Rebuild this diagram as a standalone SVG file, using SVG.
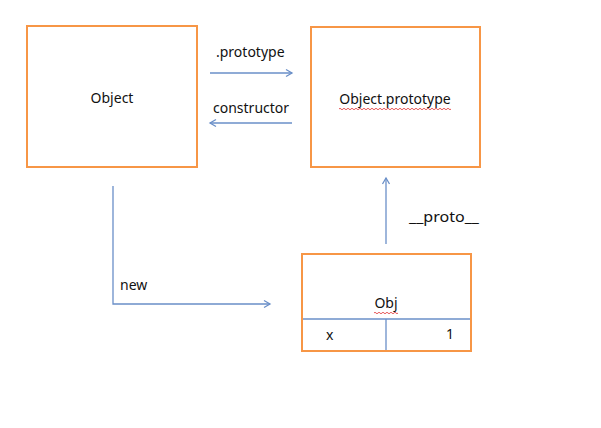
<svg xmlns="http://www.w3.org/2000/svg" width="601" height="428" viewBox="0 0 601 428">
<style>
.box{fill:#fff;stroke:#F79646;stroke-width:2}
.ln{fill:none;stroke:#6A8FC8;stroke-width:1.3}
.t{font-family:"Noto Sans","DejaVu Sans",sans-serif;font-size:14px;fill:#111}
.sq{fill:none;stroke:#E03030;stroke-width:0.8}
</style>
<defs>
<marker id="ah" markerWidth="10" markerHeight="10" refX="8" refY="5" orient="auto" markerUnits="userSpaceOnUse">
<path d="M2,1.5 L8,5 L2,8.5" fill="none" stroke="#6A8FC8" stroke-width="1.3"/>
</marker>
</defs>
<rect width="601" height="428" fill="#fff"/>
<g id="object">
<rect class="box" x="27" y="26" width="170" height="141"/>
<text class="t" x="112" y="103" text-anchor="middle">Object</text>
</g>
<g id="object-prototype">
<rect class="box" x="311" y="27" width="169" height="140"/>
<text class="t" x="395" y="104" text-anchor="middle">Object.prototype</text>
<path class="sq" d="M339,109 q1,-1.5 2,0 t2,0 t2,0 t2,0 t2,0 t2,0 t2,0 t2,0 t2,0 t2,0 t2,0 t2,0 t2,0 t2,0 t2,0 t2,0 t2,0 t2,0 t2,0 t2,0 t2,0 t2,0 t2,0 t2,0 t2,0 t2,0 t2,0 t2,0 t2,0 t2,0 t2,0 t2,0 t2,0 t2,0 t2,0 t2,0 t2,0 t2,0 t2,0 t2,0 t2,0 t2,0 t2,0 t2,0 t2,0 t2,0 t2,0 t2,0 t2,0 t2,0 t2,0 t2,0 t2,0 t2,0 t2,0 t2,0"/>
</g>
<g id="obj">
<rect class="box" x="302" y="254" width="169" height="97"/>
<text class="t" x="386" y="308" text-anchor="middle">Obj</text>
<path class="sq" d="M374,313 q1,-1.5 2,0 t2,0 t2,0 t2,0 t2,0 t2,0 t2,0 t2,0 t2,0 t2,0 t2,0 t2,0"/>
<line class="ln" x1="303" y1="319" x2="470" y2="319"/>
<line class="ln" x1="386" y1="319" x2="386" y2="350"/>
<text class="t" x="326" y="340">x</text>
<text class="t" x="446" y="339">1</text>
</g>
<g id="connectors">
<line class="ln" x1="210" y1="73" x2="292" y2="73" marker-end="url(#ah)"/>
<text class="t" x="216" y="57">.prototype</text>
<line class="ln" x1="292" y1="123" x2="210" y2="123" marker-end="url(#ah)"/>
<text class="t" x="213" y="113">constructor</text>
<line class="ln" x1="386" y1="244" x2="386" y2="178" marker-end="url(#ah)"/>
<text class="t" x="409" y="222" textLength="70" lengthAdjust="spacingAndGlyphs">__proto__</text>
<polyline class="ln" points="113,186 113,304 270,304" marker-end="url(#ah)"/>
<text class="t" x="120" y="290">new</text>
</g>
</svg>
